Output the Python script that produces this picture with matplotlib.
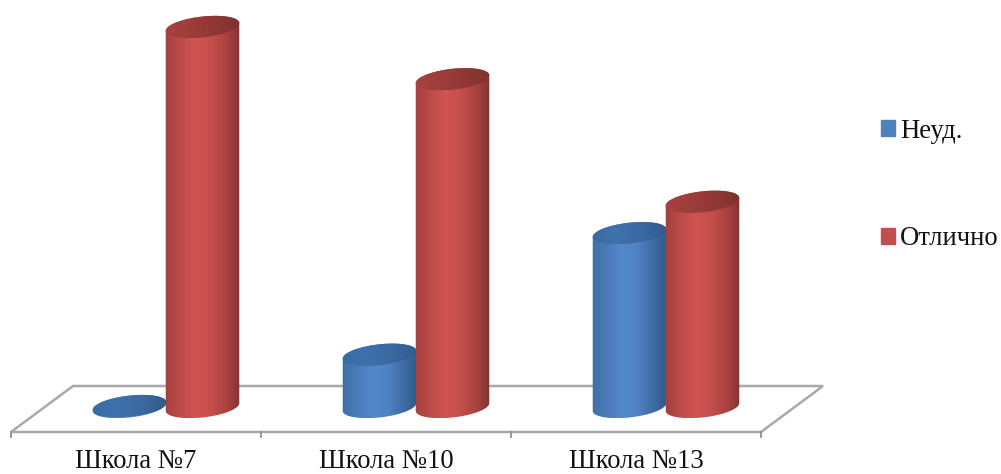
import numpy as np
import matplotlib
matplotlib.use("Agg")
import matplotlib.pyplot as plt
from matplotlib.colors import LinearSegmentedColormap
from matplotlib.patches import Polygon, Patch

plt.rcParams['font.family'] = ['Liberation Serif', 'DejaVu Serif']

categories = ["Школа №7", "Школа №10", "Школа №13"]
neud = [0.1, 5.5, 18.3]
otlichno = [40.0, 34.5, 21.6]

# pixel geometry of the fake 3d look
W, H = 1001, 474
PX_X = 250.0      # px per category
PX_Y = 9.5        # px per value unit
X0, Y0 = 136, 407 # px of category 0 / value 0
DEPTH = 30 / PX_X
OFFSET = 36.5 / PX_X
A, B, TILT = 37.0, 10.4, np.radians(6.5)
FONT = 19.2

blue_body = LinearSegmentedColormap.from_list("bb", ["#3f6ea6", "#4a7bb8", "#5388cc", "#4f82c2", "#3d6ca3", "#2f5684"])
red_body = LinearSegmentedColormap.from_list("rb", ["#a03f3d", "#bb4a48", "#cf5452", "#c54e4c", "#a84240", "#7d2f2e"])
blue_cap = LinearSegmentedColormap.from_list("bc", ["#3a6aa2", "#3f71ad", "#3a689f", "#2f5a8c"])
red_cap = LinearSegmentedColormap.from_list("rc", ["#a84241", "#9d3d3b", "#8f3735", "#7f302f"])


def ring(x, v, start, stop):
    # tilted ellipse arc, in data units
    t = np.linspace(start, stop, 80)
    dx = A * np.cos(t) * np.cos(TILT) - B * np.sin(t) * np.sin(TILT)
    dy = A * np.cos(t) * np.sin(TILT) + B * np.sin(t) * np.cos(TILT)
    return np.column_stack([x + dx / PX_X, v + dy / PX_Y])


def painted(ax, pts, cmap, x, v, z):
    # horizontal gradient clipped to the outline
    low, high = x - (A + 2) / PX_X, x + (A + 2) / PX_X
    im = ax.imshow(np.linspace(0, 1, 256)[None, :], cmap=cmap, aspect='auto',
                   extent=(low, high, pts[:, 1].min(), pts[:, 1].max()), zorder=z)
    im.set_clip_path(Polygon(pts, closed=True, transform=ax.transData))


def cylinder(ax, x, v, body, cap, z):
    side = np.vstack([ring(x, 0, np.pi, 2 * np.pi), ring(x, v, 0, np.pi)])
    painted(ax, side, body, x, v, z)
    painted(ax, ring(x, v, 0, 2 * np.pi), cap, x, v, z + 0.5)


fig = plt.figure(figsize=(W / 100, H / 100), dpi=100)
ax = fig.add_axes([0, 0, 1, 1])
ax.axis('off')

# floor
floor_y = (Y0 - 432) / PX_Y
back_y = (Y0 - 386) / PX_Y
left = -0.5
right = 2.5
floor = [(left, floor_y), (right, floor_y), (right + 62 / PX_X, back_y), (left + 62 / PX_X, back_y)]
ax.add_patch(Polygon(floor, closed=True, fill=False, edgecolor='#a9a9a9', lw=1.8, zorder=1))
for i in range(len(categories) + 1):
    ax.plot([left + i, left + i], [floor_y, floor_y - 5 / PX_Y], color='#8f8f8f', lw=1.3, zorder=1)

for i, name in enumerate(categories):
    cylinder(ax, i + DEPTH - OFFSET, neud[i], blue_body, blue_cap, 2 + i)
    cylinder(ax, i + DEPTH + OFFSET, otlichno[i], red_body, red_cap, 2.7 + i)
    ax.text(i, (Y0 - 462) / PX_Y, name, ha='center', va='center', fontsize=FONT, color='#111111')

ax.set_xlim(-X0 / PX_X, (W - X0) / PX_X)
ax.set_ylim((Y0 - H) / PX_Y, Y0 / PX_Y)

handles = [Patch(color='#4f81bd', label='Неуд.'), Patch(color='#c0504d', label='Отлично')]
ax.legend(handles=handles, loc='center left', bbox_to_anchor=(881 / W, 1 - 185 / H), frameon=False,
          fontsize=FONT, handlelength=0.525, handleheight=0.525, handletextpad=0.19,
          labelspacing=3.1, borderpad=0, borderaxespad=0, labelcolor='#111111')

fig.savefig("out.png", dpi=100)
